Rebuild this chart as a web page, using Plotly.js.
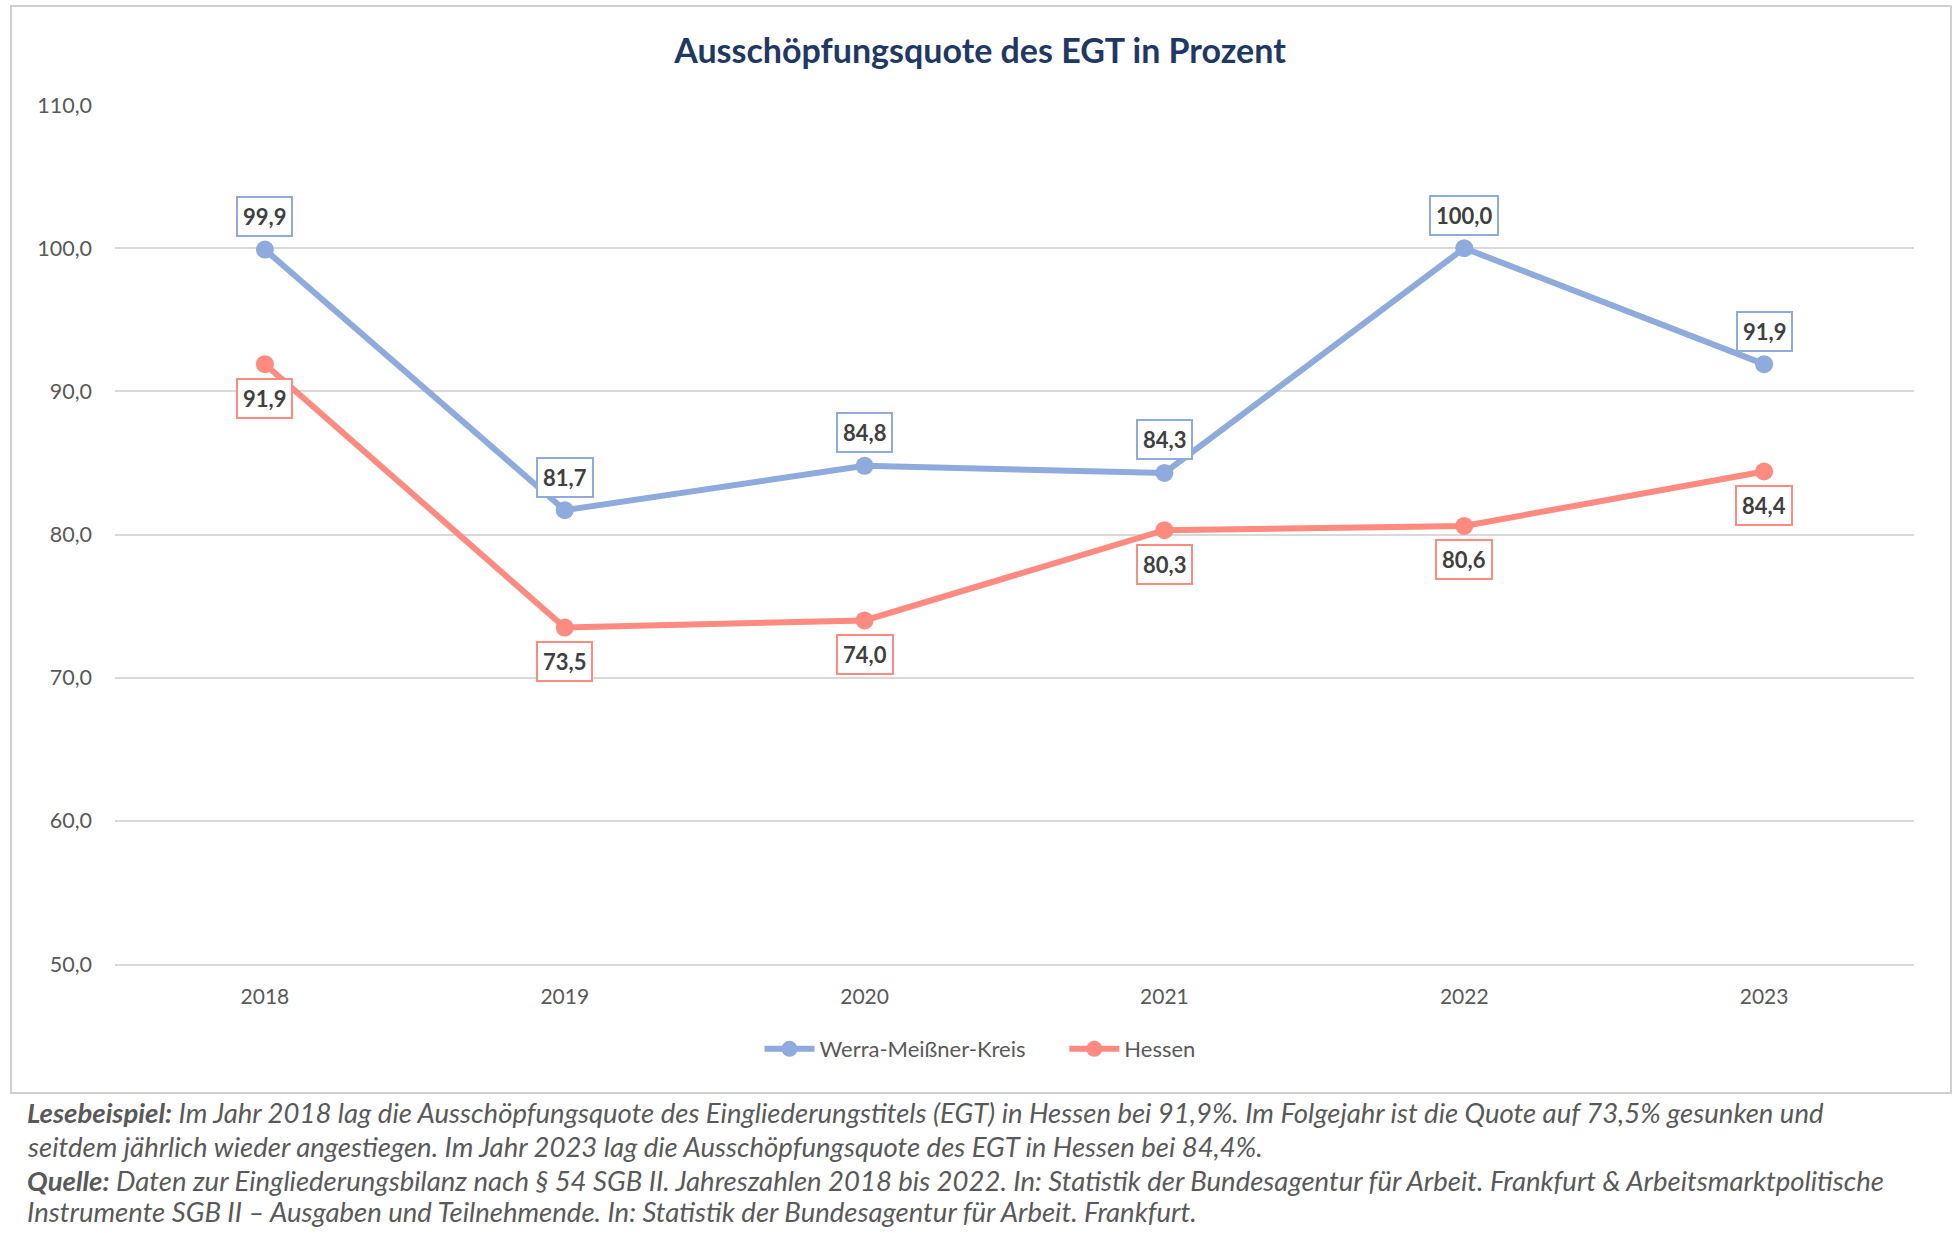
<!DOCTYPE html>
<html>
<head>
<meta charset="utf-8">
<script src="https://cdn.plot.ly/plotly-3.0.1.min.js"></script>
<style>html,body{margin:0;padding:0;background:#fff;}#chart{width:1960px;height:1233px;}</style>
</head>
<body>
<div id="chart"></div>
<script>
// ---- data ----
const years = ['2018', '2019', '2020', '2021', '2022', '2023'];
const werraName = 'Werra-Meißner-Kreis';
const werraValues = [99.9, 81.7, 84.8, 84.3, 100.0, 91.9];
const hessenName = 'Hessen';
const hessenValues = [91.9, 73.5, 74.0, 80.3, 80.6, 84.4];
const yTicks = [50, 60, 70, 80, 90, 100, 110];
const titleText = 'Ausschöpfungsquote des EGT in Prozent';
const footerLines = [
  '<b>Lesebeispiel:</b> Im Jahr 2018 lag die Ausschöpfungsquote des Eingliederungstitels (EGT) in Hessen bei 91,9%. Im Folgejahr ist die Quote auf 73,5% gesunken und',
  'seitdem jährlich wieder angestiegen. Im Jahr 2023 lag die Ausschöpfungsquote des EGT in Hessen bei 84,4%.',
  '<b>Quelle:</b> Daten zur Eingliederungsbilanz nach § 54 SGB II. Jahreszahlen 2018 bis 2022. In: Statistik der Bundesagentur für Arbeit. Frankfurt &amp; Arbeitsmarktpolitische',
  'Instrumente SGB II – Ausgaben und Teilnehmende. In: Statistik der Bundesagentur für Arbeit. Frankfurt.'
];

// ---- styles ----
const W = 1960, H = 1233;
const FONT = 'Lato, "Open Sans", sans-serif';
const blue = '#8FAADC';
const red = '#FF8A80';
const grey = '#595959';
const px = v => v / W;
const py = v => 1 - v / H;
const legendGap = '\u00a0\u00a0\u00a0\u00a0\u00a0\u00a0';

const fmt = v => v.toFixed(1).replace('.', ',');

function seriesTrace(name, vals, color) {
  return {
    type: 'scatter', mode: 'lines+markers', name: name,
    x: years, y: vals,
    line: {color: color, width: 6},
    marker: {color: color, size: 18},
    hoverinfo: 'skip'
  };
}

function labelAnns(vals, color, shift) {
  return vals.map((v, i) => ({
    x: i, y: v, xref: 'x', yref: 'y',
    text: '<b>' + fmt(v) + '</b>', showarrow: false, yshift: shift,
    xanchor: 'center', yanchor: 'middle',
    font: {family: FONT, size: 22, color: '#404040'},
    bgcolor: '#ffffff', bordercolor: color, borderwidth: 2, borderpad: 5
  }));
}

const footerY = [1112, 1146, 1180, 1211];
const footerAnns = footerLines.map((t, i) => ({
  xref: 'paper', yref: 'paper', x: px(25), y: py(footerY[i]),
  xanchor: 'left', yanchor: 'middle', showarrow: false, align: 'left',
  text: '<i>' + t + '</i>',
  font: {family: FONT, size: 27.5, color: grey}
}));

const layout = {
  width: W, height: H,
  margin: {l: 0, r: 0, t: 0, b: 0},
  paper_bgcolor: '#ffffff', plot_bgcolor: '#ffffff',
  separators: ',.',
  font: {family: FONT, color: grey},
  title: {
    text: '<b>' + titleText + '</b>',
    x: 0.5, xanchor: 'center', xref: 'paper',
    y: py(51), yanchor: 'middle', yref: 'paper',
    font: {family: FONT, size: 34, color: '#1F3864'}
  },
  xaxis: {
    domain: [px(115), px(1914)],
    type: 'category', range: [-0.5, 5.5],
    showgrid: false, zeroline: false,
    showline: true, linecolor: '#D9D9D9', linewidth: 2,
    ticks: '', ticklabelstandoff: 13,
    tickfont: {family: FONT, size: 21, color: grey},
    fixedrange: true
  },
  yaxis: {
    domain: [py(964), py(105)],
    range: [50, 110], tickvals: yTicks, tickformat: '.1f',
    showgrid: true, gridcolor: '#D9D9D9', gridwidth: 2,
    zeroline: false, showline: false, ticks: '',
    ticklabelstandoff: 22,
    tickfont: {family: FONT, size: 21.5, color: grey},
    fixedrange: true
  },
  showlegend: true,
  legend: {
    orientation: 'h', x: 0.5, xanchor: 'center', xref: 'paper',
    y: py(1049), yanchor: 'middle', yref: 'paper',
    font: {family: FONT, size: 22, color: grey},
    itemwidth: 50, tracegroupgap: 0, bgcolor: 'rgba(0,0,0,0)'
  },
  shapes: [{
    type: 'rect', xref: 'paper', yref: 'paper',
    x0: px(11), x1: px(1951), y0: py(1093), y1: py(6),
    line: {color: '#D0D0D0', width: 2}, fillcolor: 'rgba(0,0,0,0)', layer: 'below'
  }],
  annotations: [].concat(
    labelAnns(werraValues, blue, 33),
    labelAnns(hessenValues, red, -34),
    footerAnns
  )
};

Plotly.newPlot('chart', [
  seriesTrace(werraName + legendGap, werraValues, blue),
  seriesTrace(hessenName, hessenValues, red)
], layout, {displayModeBar: false, staticPlot: true});
</script>
</body>
</html>
